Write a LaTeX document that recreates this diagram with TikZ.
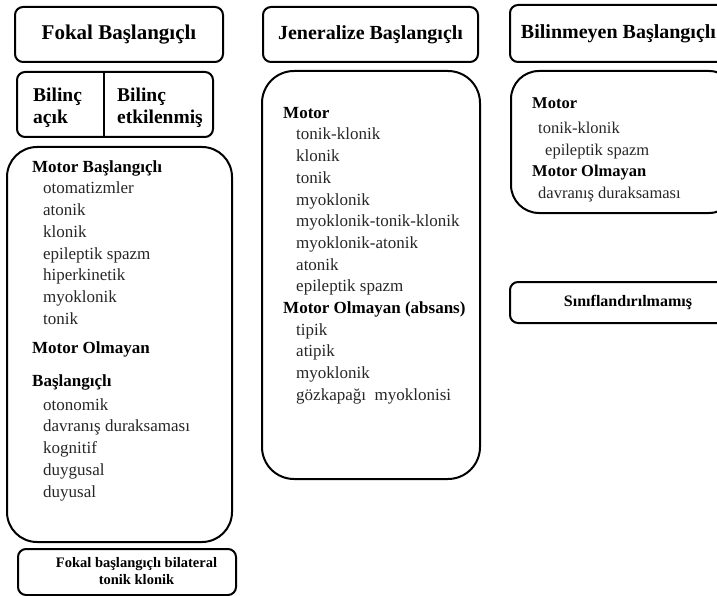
\documentclass[tikz,border=0pt]{standalone}
\usepackage{fontspec}
\setmainfont{Liberation Serif}
\newcommand\grp[1]{{\color{black}\bfseries #1}}
\newcommand\topline{\rule{0pt}{13pt}}
\begin{document}
\begin{tikzpicture}[x=1pt,y=-1pt,
  hdr/.style={draw,line width=2pt,rounded corners=8pt,inner sep=0pt,
    font=\bfseries\fontsize{20}{22}\selectfont},
  panel/.style={draw,line width=2pt},
  lst/.style={anchor=north west,inner sep=0pt,align=left,text=black!85,
    font=\fontsize{17}{21.7}\selectfont}]

	\useasboundingbox (0,0) rectangle (717,596);

	% column headers
	\node[hdr,minimum width=208pt,minimum height=55pt,font=\bfseries\fontsize{21}{22}\selectfont] (fokal) at (119,34.5) {Fokal Başlangıçlı};
	\node[hdr,minimum width=215pt,minimum height=55pt] (jener) at (370.5,34.5) {Jeneralize Başlangıçlı};
	\node[hdr,minimum width=217pt,minimum height=57pt] (bilin) at (618.5,33.5) {Bilinmeyen Başlangıçlı};

	% awareness box
	\draw[panel,rounded corners=8pt] (17,72) rectangle (213,137);
	\draw[line width=2pt] (104,72) -- (104,137);
	\node[lst,font=\bfseries\fontsize{19.5}{22}\selectfont,text=black] (acik) at (33,87) {\rule{0pt}{14pt}Bilinç\\açık};
	\node[lst,font=\bfseries\fontsize{19.5}{22}\selectfont,text=black] (etki) at (117,87) {\rule{0pt}{14pt}Bilinç\\etkilenmiş};

	% focal list
	\draw[panel,rounded corners=30pt] (7,147) rectangle (232,542);
	\node[lst] (fokalList) at (32,159) {\topline\grp{Motor Başlangıçlı}\\
	  \hspace*{11pt}otomatizmler\\ \hspace*{11pt}atonik\\ \hspace*{11pt}klonik\\
	  \hspace*{11pt}epileptik spazm\\ \hspace*{11pt}hiperkinetik\\
	  \hspace*{11pt}myoklonik\\ \hspace*{11pt}tonik\\[8pt]
	  \grp{Motor Olmayan}\\[11pt]
	  \grp{Başlangıçlı}\\[2pt]
	  \hspace*{11pt}otonomik\\ \hspace*{11pt}davranış duraksaması\\
	  \hspace*{11pt}kognitif\\ \hspace*{11pt}duygusal\\ \hspace*{11pt}duyusal};

	% generalized list
	\draw[panel,rounded corners=32pt] (262,71) rectangle (480,479);
	\node[lst] (jenerList) at (283,105) {\topline\grp{Motor}\\
	  \hspace*{13pt}tonik-klonik\\ \hspace*{13pt}klonik\\ \hspace*{13pt}tonik\\
	  \hspace*{13pt}myoklonik\\ \hspace*{13pt}myoklonik-tonik-klonik\\
	  \hspace*{13pt}myoklonik-atonik\\ \hspace*{13pt}atonik\\
	  \hspace*{13pt}epileptik spazm\\
	  \grp{Motor Olmayan (absans)}\\
	  \hspace*{13pt}tipik\\ \hspace*{13pt}atipik\\ \hspace*{13pt}myoklonik\\
	  \hspace*{13pt}gözkapağı\ \ myoklonisi};

	% unknown list
	\draw[panel,rounded corners=28pt] (511,71) rectangle (737,213);
	\node[lst,font=\fontsize{16.5}{21.5}\selectfont] (bilinList) at (532,95) {\topline\grp{Motor}\\[4pt]
	  \hspace*{6pt}tonik-klonik\\ \hspace*{13pt}epileptik spazm\\
	  \grp{Motor Olmayan}\\
	  \hspace*{6pt}davranış duraksaması};

	% unclassified
	\draw[panel,rounded corners=8pt] (510,282) rectangle (727,323);
	\node[font=\bfseries\fontsize{16}{17}\selectfont] (sinif) at (628,302.5) {Sınıflandırılmamış};

	% bilateral
	\draw[panel,rounded corners=8pt] (18,549) rectangle (236,595);
	\node[align=center,font=\bfseries\fontsize{14.5}{17}\selectfont] (bilat) at (136.5,571) {Fokal başlangıçlı bilateral\\ tonik klonik};

\end{tikzpicture}
\end{document}
